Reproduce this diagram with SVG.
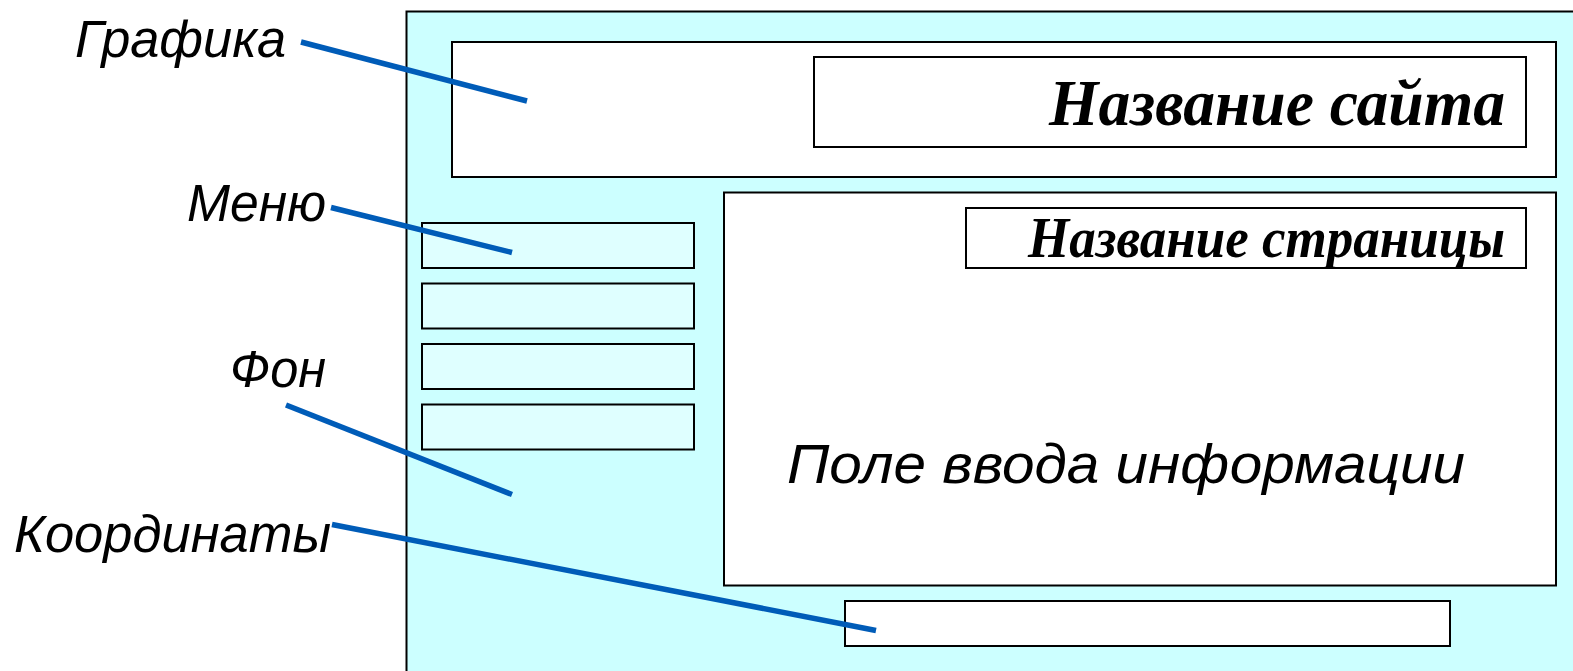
<svg xmlns="http://www.w3.org/2000/svg" width="1573" height="671" viewBox="0 0 1573 671">
<style>
.box{stroke:#000;stroke-width:2}
.white{fill:#fff}
.menu{fill:#DFFFFF}
.lbl{font-family:"Liberation Sans",Arial,sans-serif;font-style:italic;font-size:51px;fill:#000}
.ttl{font-family:"Liberation Serif","Times New Roman",serif;font-style:italic;font-weight:bold;fill:#000}
.conn{stroke:#005CB8;stroke-width:5.5;fill:none;stroke-linecap:butt}
</style>
<rect width="1573" height="671" fill="#fff"/>
<g id="page"><rect x="406.5" y="11.5" width="1300" height="800" fill="#CCFFFF" class="box"/></g>
<g id="header"><rect x="452" y="42" width="1104" height="135" class="box white"/></g>
<g id="site-title"><rect x="814" y="57" width="712" height="90" class="box white"/>
<text x="1049" y="125" class="ttl" font-size="66" textLength="456" lengthAdjust="spacingAndGlyphs">Название сайта</text></g>
<g id="content"><rect x="724" y="192.5" width="832" height="393" class="box white"/>
<text x="787" y="483" class="lbl" textLength="678" lengthAdjust="spacingAndGlyphs" style="font-size:56px">Поле ввода информации</text></g>
<g id="page-title"><rect x="966" y="208" width="560" height="60" class="box white"/>
<text x="1028" y="257" class="ttl" font-size="56" textLength="477" lengthAdjust="spacingAndGlyphs">Название страницы</text></g>
<g id="menu1"><rect x="422" y="223" width="272" height="45" class="box menu"/></g>
<g id="menu2"><rect x="422" y="283.5" width="272" height="45" class="box menu"/></g>
<g id="menu3"><rect x="422" y="344" width="272" height="45" class="box menu"/></g>
<g id="menu4"><rect x="422" y="404.5" width="272" height="45" class="box menu"/></g>
<g id="coords"><rect x="845" y="601" width="605" height="45" class="box white"/></g>
<g id="label-grafika"><text x="75" y="57" class="lbl" textLength="211" lengthAdjust="spacingAndGlyphs">Графика</text></g>
<g id="label-menu"><text x="187" y="221" class="lbl" textLength="139" lengthAdjust="spacingAndGlyphs">Меню</text></g>
<g id="label-fon"><text x="230" y="387" class="lbl" textLength="96" lengthAdjust="spacingAndGlyphs">Фон</text></g>
<g id="label-coords"><text x="14" y="552" class="lbl" textLength="317" lengthAdjust="spacingAndGlyphs">Координаты</text></g>
<g id="connectors">
<line x1="301" y1="42" x2="527" y2="101" class="conn"/>
<line x1="331" y1="207.5" x2="512" y2="252.5" class="conn"/>
<line x1="286" y1="405" x2="512" y2="494.5" class="conn"/>
<line x1="332" y1="524.5" x2="876" y2="630.5" class="conn"/>
</g>
</svg>
